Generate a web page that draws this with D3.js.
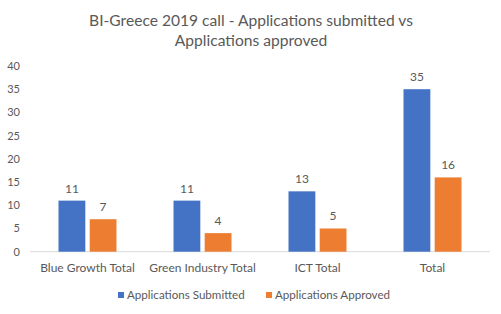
<html>
<head>
<script src="https://d3js.org/d3.v7.min.js"></script>
<style>
  body { margin: 0; background: #fff; }
  text { font-family: Lato, "Open Sans", sans-serif; fill: #595959; }
</style>
</head>
<body>
<div id="chart"></div>
<script>
// chart data
var categories = ["Blue Growth Total", "Green Industry Total", "ICT Total", "Total"];
var submitted = [11, 11, 13, 35];
var approved = [7, 4, 5, 16];
var seriesNames = ["Applications Submitted", "Applications Approved"];
var yTicks = [0, 5, 10, 15, 20, 25, 30, 35, 40];

(function() {
    var width = 501, height = 314;
    var colors = ["#4472C4", "#ED7D31"];

    var svg = d3.select("#chart").append("svg")
        .attr("width", width)
        .attr("height", height);

    // title
    svg.append("text")
        .attr("x", 251).attr("y", 26)
        .attr("text-anchor", "middle")
        .style("font-size", "15.6px")
        .text("BI-Greece 2019 call - Applications submitted vs");
    svg.append("text")
        .attr("x", 251).attr("y", 46)
        .attr("text-anchor", "middle")
        .style("font-size", "15.6px")
        .text("Applications approved");

    var x = d3.scaleBand().domain(categories).range([30, 490]);
    var y = d3.scaleLinear().domain([0, 40]).range([251.7, 66]);
    var x1 = d3.scaleBand().domain([0, 1]).range([0, 58]).paddingInner(0.14);

    // y labels
    svg.selectAll(".ytick")
        .data(yTicks)
        .enter().append("text")
        .attr("class", "ytick")
        .attr("x", 20)
        .attr("y", d => y(d) + 4)
        .attr("text-anchor", "end")
        .style("font-size", "11px")
        .text(d => d);

    // baseline
    svg.append("line")
        .attr("x1", 30).attr("x2", 490)
        .attr("y1", y(0)).attr("y2", y(0))
        .style("stroke", "#d9d9d9");

    var rows = categories.map((c, i) => ({cat: c, vals: [submitted[i], approved[i]]}));

    var groups = svg.selectAll(".grp")
        .data(rows)
        .enter().append("g")
        .attr("transform", d => "translate(" + (x(d.cat) + x.bandwidth() / 2 - 29) + ",0)");

    groups.selectAll("rect")
        .data(d => d.vals)
        .enter().append("rect")
        .attr("x", (d, i) => x1(i))
        .attr("width", x1.bandwidth())
        .attr("y", d => y(d))
        .attr("height", d => y(0) - y(d))
        .attr("fill", (d, i) => colors[i]);

    groups.selectAll(".lbl")
        .data(d => d.vals)
        .enter().append("text")
        .attr("class", "lbl")
        .attr("x", (d, i) => x1(i) + x1.bandwidth() / 2)
        .attr("y", d => y(d) - 8)
        .attr("text-anchor", "middle")
        .style("font-size", "12px")
        .text(d => d);

    // category labels
    svg.selectAll(".cat")
        .data(categories)
        .enter().append("text")
        .attr("class", "cat")
        .attr("x", d => x(d) + x.bandwidth() / 2)
        .attr("y", 272)
        .attr("text-anchor", "middle")
        .style("font-size", "12px")
        .text(d => d);

    // legend
    var legX = [118, 266];
    seriesNames.forEach(function(name, i) {
        svg.append("rect")
            .attr("x", legX[i]).attr("y", 292)
            .attr("width", 6).attr("height", 6)
            .attr("fill", colors[i]);
        svg.append("text")
            .attr("x", legX[i] + 9).attr("y", 299)
            .style("font-size", "11.6px")
            .text(name);
    });
})();
</script>
</body>
</html>
